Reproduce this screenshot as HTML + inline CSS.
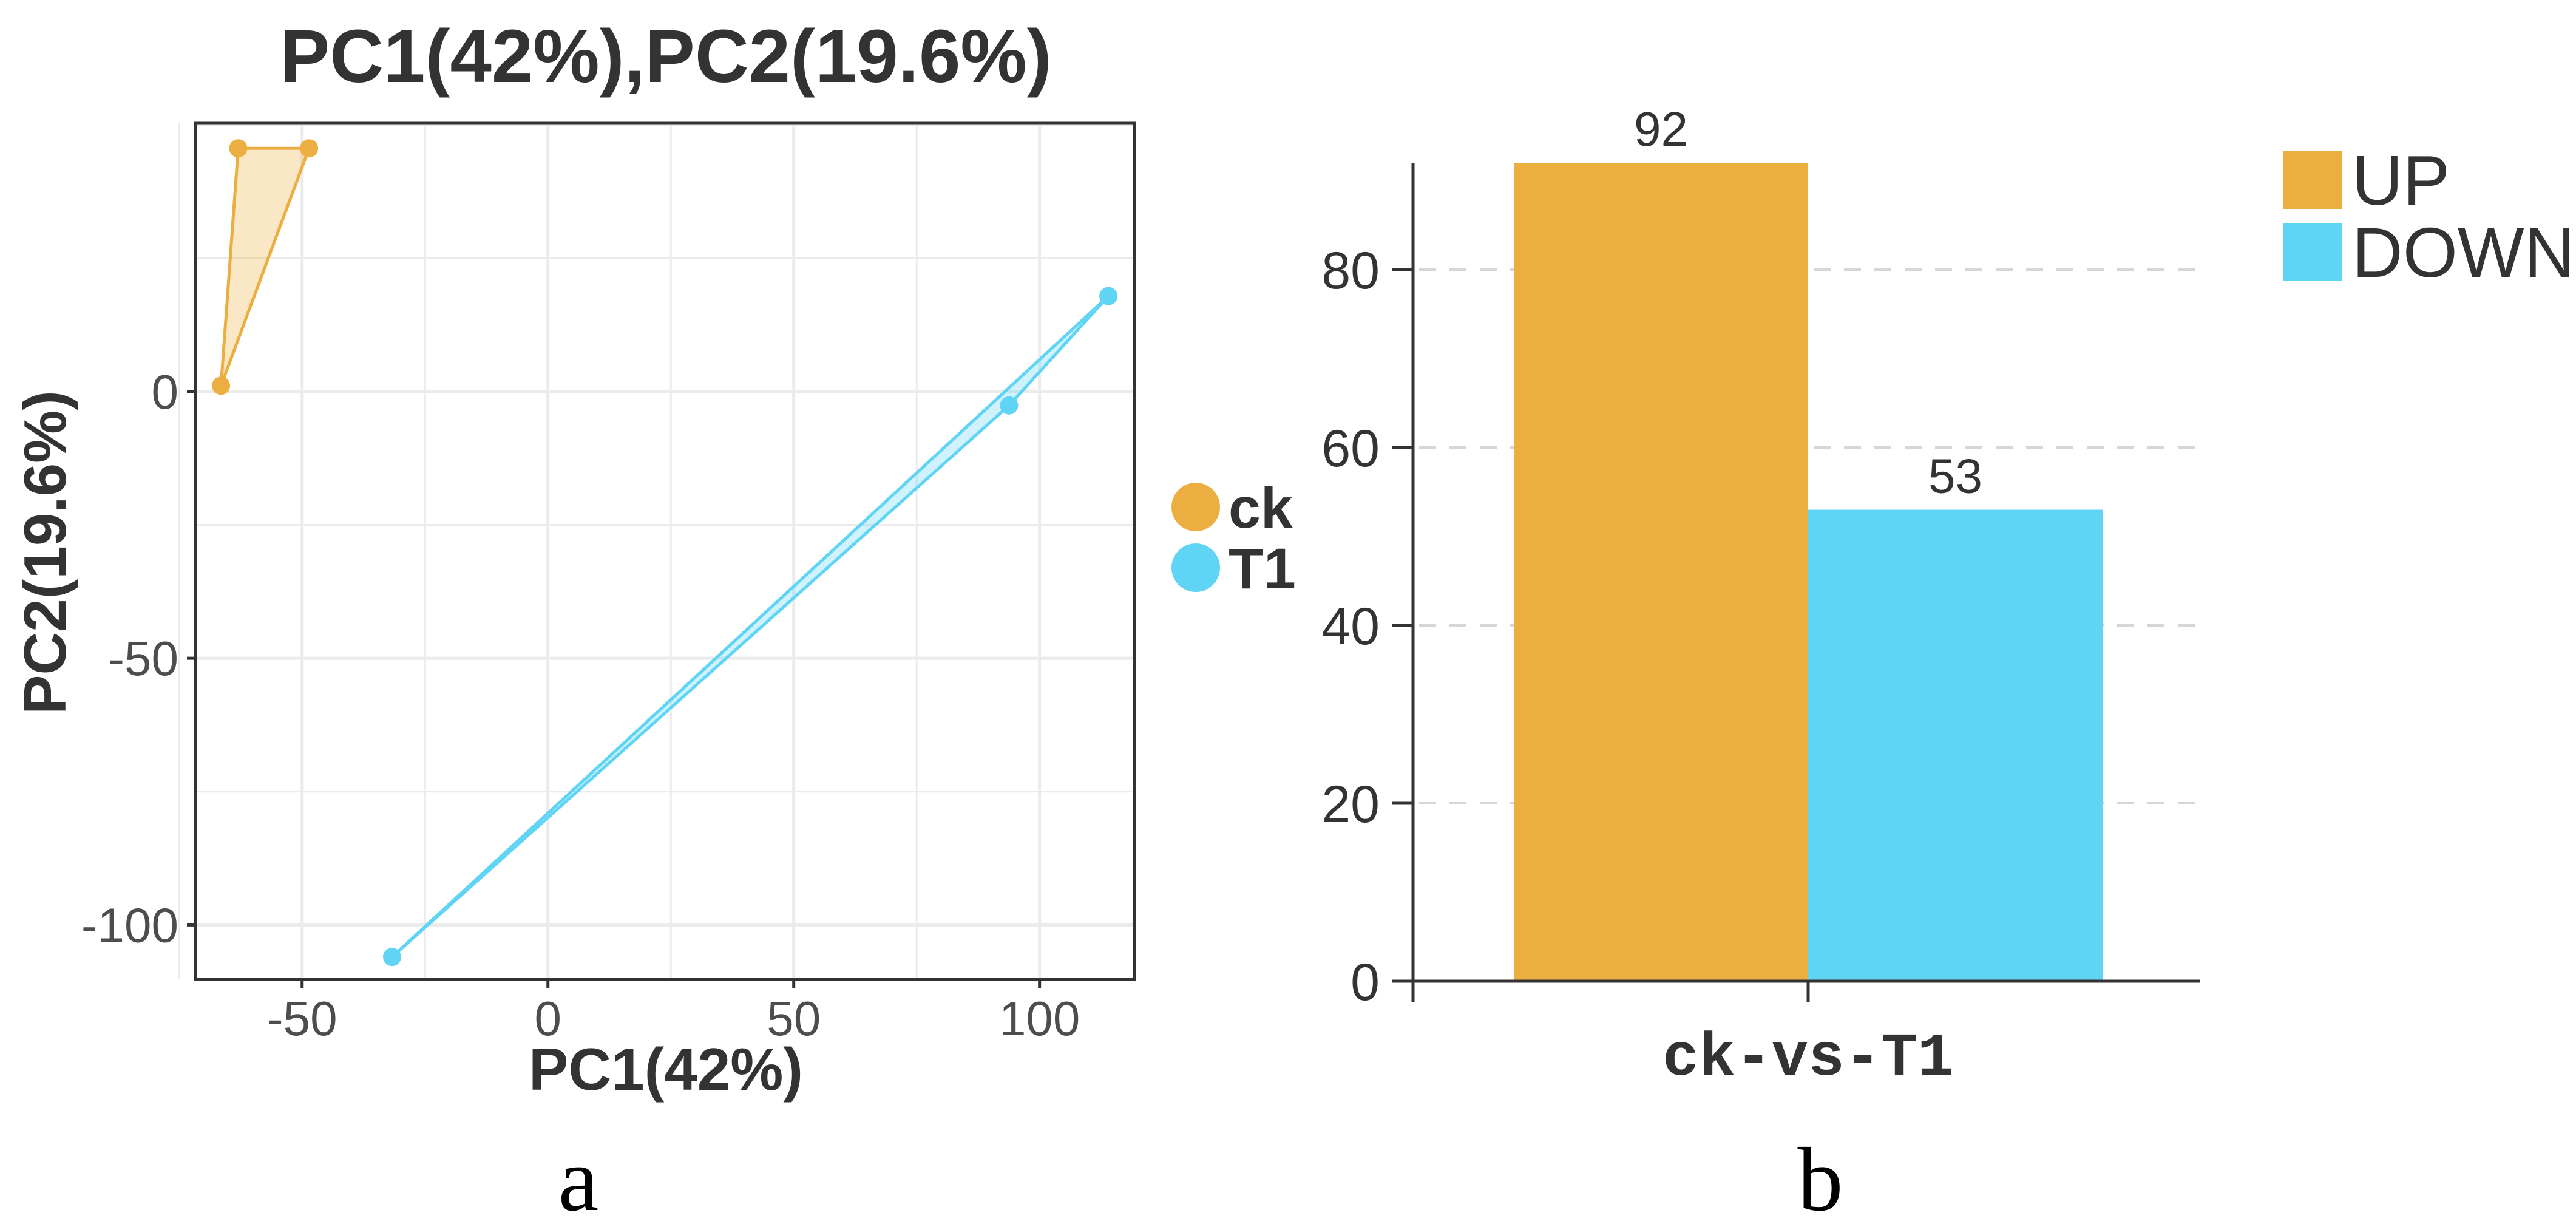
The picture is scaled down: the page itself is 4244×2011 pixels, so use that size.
<!DOCTYPE html>
<html><head><meta charset="utf-8"><style>html,body{margin:0;padding:0;background:#fff}svg{display:block}</style></head>
<body>
<svg id="fig" xmlns="http://www.w3.org/2000/svg" width="4244" height="2011" viewBox="0 0 4244 2011" font-family="Liberation Sans, sans-serif">
<rect width="4244" height="2011" fill="#fff"/>
<g id="pca"></g>
<g id="bar"></g>
<text x="953" y="1993" font-family="Liberation Serif, serif" font-size="150" text-anchor="middle" fill="#000">a</text>
<text x="2999" y="1993" font-family="Liberation Serif, serif" font-size="150" text-anchor="middle" fill="#000">b</text>
</svg>
<script>
// PCA data
const groups = ['ck','T1'];
const groupColors = ['#EDAE41','#5FD4F4'];
const ckX = [-63.0, -48.6, -66.5];
const ckY = [45.6, 45.6, 1.1];
const t1X = [114.0, 93.8, -31.7];
const t1Y = [17.9, -2.6, -106.0];
const pcaXTicks = [-50, 0, 50, 100];
const pcaYTicks = [0, -50, -100];
// Bar data
const barCategory = 'ck-vs-T1';
const barSeries = ['UP','DOWN'];
const barValues = [92, 53];
const barYTicks = [0, 20, 40, 60, 80];

const NS='http://www.w3.org/2000/svg';
function mk(parent, tag, attrs, text){const e=document.createElementNS(NS,tag);for(const k in attrs)e.setAttribute(k,attrs[k]);if(text!==undefined)e.textContent=text;parent.appendChild(e);return e;}

// ---- PCA ----
const P=document.getElementById('pca');
const L=322,R=1869,T=203,B=1613;
const xmin=-71.7,xmax=119.3,ymin=-110.2,ymax=50.3;
const sx=v=>L+(v-xmin)/(xmax-xmin)*(R-L);
const sy=v=>B-(v-ymin)/(ymax-ymin)*(B-T);
let e;
for(let v=-75;v<=100;v+=25){e=mk(P,'line',{x1:sx(v),x2:sx(v),y1:T,y2:B,stroke:'#ebebeb','stroke-width':v%50===0?5:3});
}
for(let v=-100;v<=50;v+=25){e=mk(P,'line',{x1:L,x2:R,y1:sy(v),y2:sy(v),stroke:'#ebebeb','stroke-width':v%50===0?5:3});
}
const hulls=[[ckX,ckY],[t1X,t1Y]];
hulls.forEach((h,gi)=>{
  const pts=h[0].map((x,i)=>sx(x)+','+sy(h[1][i])).join(' ');
  e=mk(P,'polygon',{points:pts,fill:groupColors[gi],'fill-opacity':0.3,stroke:groupColors[gi],'stroke-width':5,'stroke-linejoin':'round'});
  
  h[0].forEach((x,i)=>{e=mk(P,'circle',{cx:sx(x),cy:sy(h[1][i]),r:15,fill:groupColors[gi]});
  });
});
e=mk(P,'rect',{x:L,y:T,width:R-L,height:B-T,fill:'none',stroke:'#333',"stroke-width":5});

pcaXTicks.forEach(v=>{
  e=mk(P,'line',{x1:sx(v),x2:sx(v),y1:B,y2:B+14,stroke:'#333','stroke-width':5});
  
  e=mk(P,'text',{x:sx(v),y:B+92,'font-size':80,'text-anchor':'middle',fill:'#4d4d4d'},String(v));
  
});
pcaYTicks.forEach(v=>{
  e=mk(P,'line',{x1:L-14,x2:L,y1:sy(v),y2:sy(v),stroke:'#333','stroke-width':5});
  
  e=mk(P,'text',{x:L-28,y:sy(v)+28,'font-size':80,'text-anchor':'end',fill:'#4d4d4d'},String(v));
  
});
e=mk(P,'text',{x:1097,y:135,'font-size':123,'font-weight':'bold','text-anchor':'middle',fill:'#333'},'PC1(42%),PC2(19.6%)');

e=mk(P,'text',{x:1097,y:1795,'font-size':98,'font-weight':'bold','text-anchor':'middle',fill:'#333'},'PC1(42%)');

e=mk(P,'text',{x:0,y:0,'font-size':98,'font-weight':'bold','text-anchor':'middle',fill:'#333',transform:'translate(108,910) rotate(-90)'},'PC2(19.6%)');

groups.forEach((g,i)=>{
  const cy=835+i*100;
  e=mk(P,'circle',{cx:1970,cy:cy,r:40,fill:groupColors[i]});
  
  e=mk(P,'text',{x:2024,y:cy+34,'font-size':95,'font-weight':'bold',fill:'#333'},g);
  
});

// ---- Bar ----
const Bg=document.getElementById('bar');
const AX=2328,AR=3625,Y0=1616,per=14.65;
const by=v=>Y0-v*per;
barYTicks.forEach(v=>{
  if(v>0){e=mk(Bg,'line',{x1:AX+10,x2:AR,y1:by(v),y2:by(v),stroke:'#d6d6d6','stroke-width':4,'stroke-dasharray':'28,22'});
  }
  e=mk(Bg,'line',{x1:AX-35,x2:AX,y1:by(v),y2:by(v),stroke:'#333','stroke-width':5});
  
  e=mk(Bg,'text',{x:AX-55,y:by(v)+31,'font-size':86,'text-anchor':'end',fill:'#333'},String(v));
  
});
const bw=485,bx0=2494;
barValues.forEach((v,i)=>{
  const x=bx0+i*bw;
  e=mk(Bg,'rect',{x:x,y:by(v),width:bw,height:Y0-by(v),fill:groupColors[i]});
  
  e=mk(Bg,'text',{x:x+bw/2,y:by(v)-28,'font-size':80,'text-anchor':'middle',fill:'#333'},String(v));
  
});
e=mk(Bg,'line',{x1:AX,x2:AX,y1:by(92),y2:Y0+35,stroke:'#333','stroke-width':5});

e=mk(Bg,'line',{x1:AX,x2:AR,y1:Y0,y2:Y0,stroke:'#333','stroke-width':5});

e=mk(Bg,'line',{x1:bx0+bw,x2:bx0+bw,y1:Y0,y2:Y0+35,stroke:'#333','stroke-width':5});

e=mk(Bg,'text',{x:bx0+bw,y:1770,'font-size':100,'font-weight':'bold','font-family':'Liberation Mono, monospace','text-anchor':'middle',fill:'#333'},barCategory);

barSeries.forEach((s,i)=>{
  const y=249+i*119;
  e=mk(Bg,'rect',{x:3762,y:y,width:96,height:95,fill:groupColors[i]});
  
  e=mk(Bg,'text',{x:3875,y:y+88,'font-size':116,fill:'#333'},s);
  
});
</script>
</body></html>
